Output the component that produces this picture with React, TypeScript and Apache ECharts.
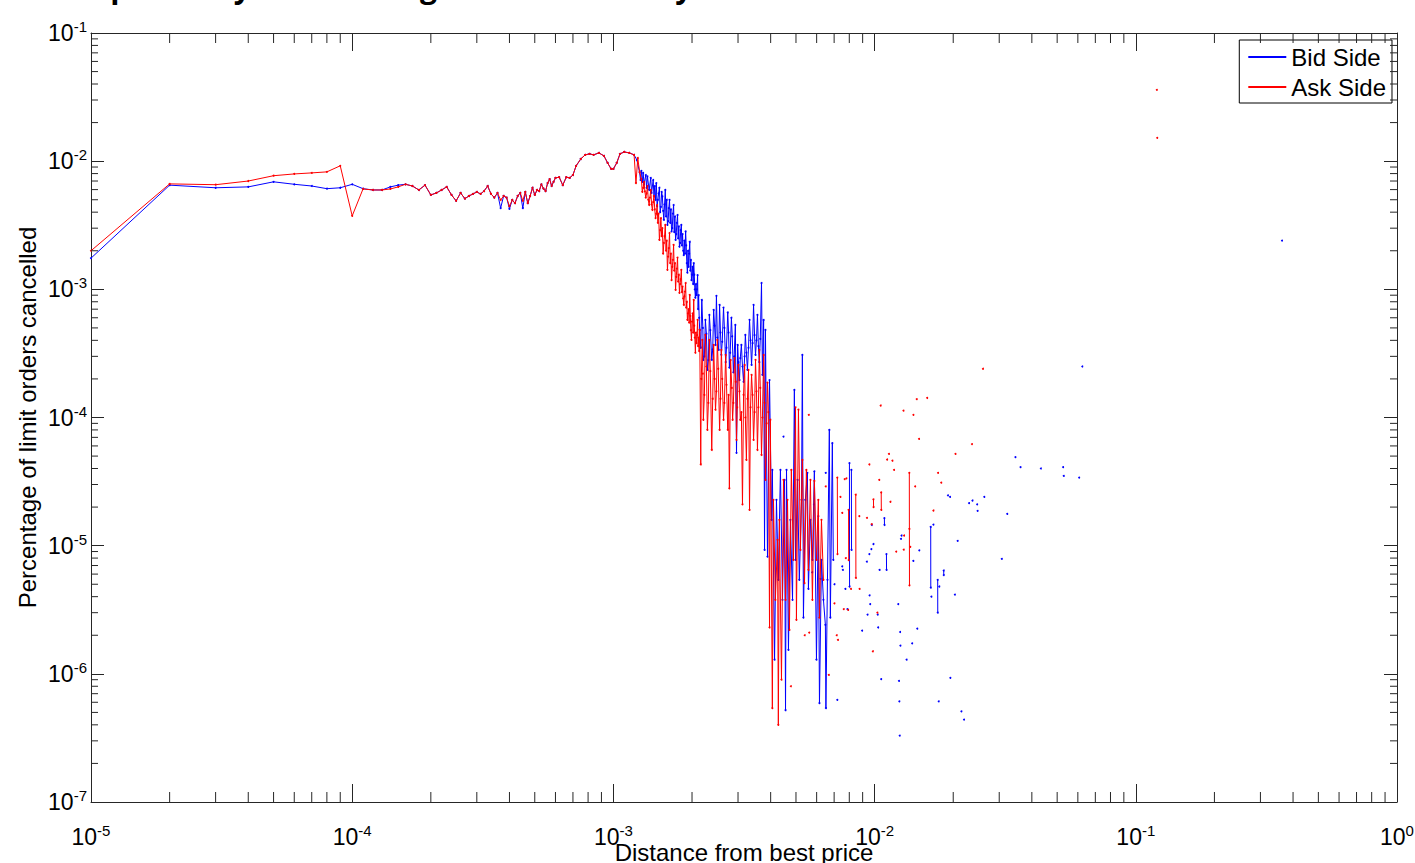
import React, { useEffect, useRef } from 'react';
import * as echarts from 'echarts';

type P = [number, number];

// ---- Bid side (blue) ----
const bidCurve: P[] = [
  [1e-5, 1.75e-3], [2e-5, 6.5e-3], [3e-5, 6.2e-3], [4e-5, 6.3e-3], [5e-5, 6.9e-3], [6e-5, 6.6e-3],
  [7e-5, 6.4e-3], [8e-5, 6.1e-3], [9e-5, 6.2e-3], [10e-5, 6.6e-3], [11e-5, 6.1e-3], [12e-5, 5.96e-3],
  [13e-5, 5.96e-3], [14e-5, 6.3e-3], [15e-5, 6.5e-3], [16e-5, 6.6e-3], [17e-5, 6.4e-3], [18e-5, 5.96e-3],
  [19e-5, 6.5e-3], [20e-5, 5.45e-3], [21e-5, 5.65e-3], [22e-5, 5.96e-3], [23e-5, 6.3e-3], [24e-5, 5.45e-3],
  [25e-5, 4.9e-3], [26e-5, 5.65e-3], [27e-5, 5.1e-3], [28e-5, 5.35e-3], [29e-5, 5.55e-3], [30e-5, 5.75e-3],
  [31e-5, 5.55e-3], [32e-5, 5.85e-3], [33e-5, 6.4e-3], [34e-5, 5.55e-3], [35e-5, 5.2e-3], [36e-5, 5.65e-3],
  [37e-5, 4.3e-3], [38e-5, 5.35e-3], [39e-5, 5.2e-3], [40e-5, 4.25e-3], [41e-5, 4.98e-3], [42e-5, 4.7e-3],
  [43e-5, 5.35e-3], [44e-5, 5.65e-3], [45e-5, 4.3e-3], [46e-5, 5.75e-3], [47e-5, 4.7e-3], [48e-5, 5.35e-3],
  [49e-5, 6.2e-3], [50e-5, 5.45e-3], [51e-5, 5.96e-3], [52e-5, 5.85e-3], [53e-5, 6.6e-3], [54e-5, 6.1e-3],
  [55e-5, 5.85e-3], [56e-5, 6.75e-3], [57e-5, 7.25e-3], [58e-5, 6.4e-3], [59e-5, 6.9e-3], [60e-5, 7.4e-3],
  [62e-5, 7.5e-3], [64e-5, 6.5e-3], [66e-5, 7.5e-3], [68e-5, 7.4e-3], [70e-5, 7.8e-3], [72e-5, 9.2e-3],
  [75e-5, 1.04e-2], [78e-5, 1.12e-2], [81e-5, 1.14e-2], [84e-5, 1.12e-2], [88e-5, 1.16e-2], [92e-5, 1.1e-2],
  [95e-5, 9.7e-3], [98e-5, 8.7e-3], [100e-5, 8.7e-3], [103e-5, 9.7e-3], [106e-5, 1.14e-2], [110e-5, 1.18e-2],
  [115e-5, 1.16e-2], [120e-5, 1.12e-2], [123e-5, 1.02e-2], [126e-5, 8.2e-3], [127e-5, 7.13e-3], [128e-5, 8.4e-3],
  [129e-5, 6.9e-3], [130e-5, 8.1e-3], [131e-5, 6.6e-3], [133e-5, 7.8e-3], [134e-5, 6.2e-3], [135e-5, 7.6e-3],
  [137e-5, 5.96e-3], [139e-5, 7.4e-3], [140e-5, 5.65e-3], [142e-5, 7.13e-3], [143e-5, 5.3e-3], [144e-5, 6.4e-3],
  [145e-5, 4.98e-3], [146e-5, 6.75e-3], [147e-5, 4.45e-3], [148e-5, 5.0e-3], [149e-5, 5.6e-3], [150e-5, 6.2e-3],
  [151e-5, 4.0e-3], [152e-5, 4.4e-3], [153e-5, 5.75e-3], [154e-5, 5.3e-3], [155e-5, 4.1e-3], [156e-5, 3.48e-3],
  [157e-5, 4.6e-3], [158e-5, 5.96e-3], [159e-5, 3.7e-3], [160e-5, 5.0e-3], [161e-5, 3.18e-3], [162e-5, 3.4e-3],
  [163e-5, 4.3e-3], [164e-5, 4.98e-3], [165e-5, 3.3e-3], [166e-5, 4.2e-3], [167e-5, 2.83e-3], [168e-5, 3.0e-3],
  [169e-5, 3.9e-3], [170e-5, 4.55e-3], [171e-5, 2.8e-3], [172e-5, 3.7e-3], [173e-5, 2.43e-3], [174e-5, 2.7e-3],
  [175e-5, 3.3e-3], [176e-5, 3.8e-3], [177e-5, 2.5e-3], [178e-5, 3.1e-3], [179e-5, 2.15e-3], [180e-5, 2.3e-3],
  [181e-5, 2.9e-3], [182e-5, 3.18e-3], [183e-5, 2.2e-3], [184e-5, 2.7e-3], [185e-5, 2.0e-3], [186e-5, 1.85e-3],
  [187e-5, 2.4e-3], [188e-5, 1.9e-3], [189e-5, 2.83e-3], [190e-5, 2.2e-3], [191e-5, 1.6e-3], [192e-5, 1.35e-3],
  [193e-5, 2.0e-3], [194e-5, 1.5e-3], [195e-5, 1.9e-3], [196e-5, 2.35e-3], [197e-5, 1.4e-3], [198e-5, 1.7e-3],
  [199e-5, 1.18e-3], [200e-5, 1.3e-3], [201e-5, 1.5e-3], [202e-5, 1.1e-3], [203e-5, 1.6e-3], [204e-5, 1.3e-3],
  [205e-5, 1.0e-3], [206e-5, 8.6e-4], [207e-5, 1.1e-3], [208e-5, 9.0e-4], [209e-5, 1.0e-3], [210e-5, 1.29e-3],
  [211e-5, 7.0e-4], [212e-5, 9.0e-4], [213e-5, 6.0e-4], [214e-5, 4.82e-4], [216e-5, 3.5e-4], [218e-5, 8.26e-4],
  [220e-5, 5.0e-4], [221e-5, 2.81e-4], [223e-5, 3.0e-4], [225e-5, 5.77e-4], [227e-5, 4.5e-4], [229e-5, 2.35e-4],
  [231e-5, 2.8e-4], [233e-5, 6.31e-4], [235e-5, 4.8e-4], [238e-5, 2.81e-4], [240e-5, 3.4e-4], [242e-5, 6.9e-4],
  [244e-5, 5.2e-4], [246e-5, 3.68e-4], [248e-5, 8.9e-4], [250e-5, 4.2e-4], [253e-5, 3.37e-4], [255e-5, 7.55e-4],
  [257e-5, 4.6e-4], [259e-5, 3.08e-4], [261e-5, 3.9e-4], [264e-5, 7.2e-4], [266e-5, 5.0e-4], [269e-5, 2.7e-4],
  [271e-5, 3.5e-4], [274e-5, 6.6e-4], [276e-5, 4.6e-4], [278e-5, 2.45e-4], [280e-5, 3.2e-4], [283e-5, 6.0e-4],
  [285e-5, 4.3e-4], [288e-5, 2.25e-4], [290e-5, 3.0e-4], [293e-5, 5.27e-4], [296e-5, 5.3e-5], [299e-5, 3.68e-4],
  [301e-5, 2.7e-4], [304e-5, 1.96e-4], [306e-5, 2.9e-4], [309e-5, 3.68e-4], [312e-5, 2.5e-4], [315e-5, 1.9e-4],
  [318e-5, 3.0e-4], [320e-5, 4.41e-4], [323e-5, 3.2e-4], [326e-5, 2.35e-4], [329e-5, 3.5e-4], [332e-5, 5.77e-4],
  [335e-5, 4.0e-4], [338e-5, 2.57e-4], [341e-5, 3.8e-4], [344e-5, 7.55e-4], [347e-5, 4.4e-4], [350e-5, 3.08e-4],
  [353e-5, 4.0e-4], [356e-5, 6.31e-4], [359e-5, 3.6e-4], [362e-5, 2.7e-4], [365e-5, 4.1e-4], [369e-5, 1.12e-3],
  [372e-5, 2.15e-4], [376e-5, 5.77e-4], [379e-5, 9.27e-6], [382e-5, 4.82e-4], [389e-5, 8.2e-6], [396e-5, 1.96e-4],
  [403e-5, 1.59e-5], [406e-5, 3.9e-5], [414e-5, 1.29e-6], [421e-5, 2.28e-5], [428e-5, 5.41e-6], [436e-5, 3.9e-5],
  [444e-5, 3.78e-6], [452e-5, 3.26e-5], [456e-5, 5.2e-7], [460e-5, 3.9e-5], [468e-5, 1.54e-6], [476e-5, 1.59e-5],
  [485e-5, 3.78e-6], [493e-5, 1.64e-4], [498e-5, 7.74e-6], [507e-5, 3.26e-5], [515e-5, 5.41e-6], [525e-5, 2.28e-5],
  [529e-5, 3.08e-4], [534e-5, 2.75e-6], [543e-5, 2.28e-5], [553e-5, 3.7e-5], [558e-5, 4.6e-6], [568e-5, 1.59e-5],
  [578e-5, 7.74e-6], [588e-5, 3.8e-5], [599e-5, 1.29e-6], [609e-5, 1.7e-5], [615e-5, 5.9e-7], [626e-5, 7.74e-6],
  [637e-5, 3.78e-6], [648e-5, 2.41e-6], [651e-5, 5.4e-7], [660e-5, 5.41e-6], [671e-5, 8.0e-5], [677e-5, 2.75e-6],
  [689e-5, 6.3e-5], [695e-5, 7.74e-6],
];
const bidSegments: P[][] = [
  [[801e-5, 4.4e-5], [802e-5, 4.8e-6]],
  [[815e-5, 3.9e-5], [816e-5, 9.27e-6]],
  [[1090e-5, 1.64e-5], [1091e-5, 1.45e-5]],
  [[1110e-5, 8.6e-6], [1111e-5, 6.47e-6]],
  [[1640e-5, 1.4e-5], [1641e-5, 4.7e-6]],
  [[1744e-5, 5.41e-6], [1745e-5, 3.0e-6]],
  [[1839e-5, 6.4e-6], [1840e-5, 5.9e-6]],
];
const bidDots: P[] = [
  [448e-5, 7.1e-5], [586e-5, 2.1e-5], [577e-5, 6.2e-6], [621e-5, 5.5e-6], [650e-5, 3.7e-5], [702e-5, 5.0e-6],
  [720e-5, 6.27e-7], [752e-5, 6.9e-6], [756e-5, 6.47e-6], [773e-5, 4.6e-6], [787e-5, 3.2e-6], [896e-5, 2.17e-6],
  [934e-5, 7.5e-6], [940e-5, 2.9e-6], [955e-5, 8.6e-6], [972e-5, 9.4e-6], [990e-5, 1.03e-5], [957e-5, 4.1e-6],
  [962e-5, 3.5e-6], [975e-5, 1.45e-5], [1028e-5, 2.9e-6], [1032e-5, 2.3e-6], [1045e-5, 6.47e-6], [1060e-5, 9.1e-7],
  [1232e-5, 3.5e-6], [1240e-5, 8.8e-7], [1244e-5, 6.1e-7], [1248e-5, 3.3e-7], [1252e-5, 2.12e-6], [1256e-5, 1.66e-6],
  [1262e-5, 1.13e-5], [1268e-5, 1.2e-5], [1326e-5, 1.29e-6], [1393e-5, 1.73e-6], [1407e-5, 7.6e-6], [1457e-5, 2.25e-6],
  [1483e-5, 9.2e-6], [1650e-5, 4.0e-6], [1680e-5, 1.46e-5], [1760e-5, 6.1e-7], [1769e-5, 4.8e-6], [1910e-5, 2.47e-5],
  [1945e-5, 2.4e-5], [1950e-5, 9.3e-7], [2030e-5, 4.15e-6], [2080e-5, 1.09e-5], [2150e-5, 5.1e-7], [2200e-5, 4.4e-7],
  [2300e-5, 2.15e-5], [2370e-5, 2.25e-5], [2470e-5, 2.1e-5], [2480e-5, 1.87e-5], [2630e-5, 2.4e-5], [3070e-5, 7.9e-6],
  [3220e-5, 1.77e-5], [3460e-5, 4.9e-5], [3620e-5, 4.1e-5], [4330e-5, 4.0e-5], [5270e-5, 4.1e-5], [5300e-5, 3.5e-5],
  [6070e-5, 3.4e-5], [6240e-5, 2.5e-4], [36300e-5, 2.4e-3],
];

// ---- Ask side (red) ----
const askCurve: P[] = [
  [1e-5, 2.0e-3], [2e-5, 6.65e-3], [3e-5, 6.55e-3], [4e-5, 7.0e-3], [5e-5, 7.7e-3], [6e-5, 7.95e-3],
  [7e-5, 8.1e-3], [8e-5, 8.25e-3], [9e-5, 9.2e-3], [10e-5, 3.74e-3], [11e-5, 6.07e-3], [12e-5, 5.96e-3],
  [13e-5, 5.96e-3], [14e-5, 6.07e-3], [15e-5, 6.3e-3], [16e-5, 6.6e-3], [17e-5, 6.4e-3], [18e-5, 5.96e-3],
  [19e-5, 6.5e-3], [20e-5, 5.45e-3], [21e-5, 5.65e-3], [22e-5, 5.96e-3], [23e-5, 6.3e-3], [24e-5, 5.45e-3],
  [25e-5, 4.9e-3], [26e-5, 5.65e-3], [27e-5, 5.1e-3], [28e-5, 5.35e-3], [29e-5, 5.55e-3], [30e-5, 5.75e-3],
  [31e-5, 5.55e-3], [32e-5, 5.85e-3], [33e-5, 6.4e-3], [34e-5, 5.55e-3], [35e-5, 5.2e-3], [36e-5, 5.65e-3],
  [37e-5, 4.98e-3], [38e-5, 5.35e-3], [39e-5, 5.2e-3], [40e-5, 4.45e-3], [41e-5, 4.98e-3], [42e-5, 4.7e-3],
  [43e-5, 5.35e-3], [44e-5, 5.65e-3], [45e-5, 4.9e-3], [46e-5, 5.75e-3], [47e-5, 4.7e-3], [48e-5, 5.35e-3],
  [49e-5, 6.2e-3], [50e-5, 5.45e-3], [51e-5, 5.96e-3], [52e-5, 5.85e-3], [53e-5, 6.6e-3], [54e-5, 6.1e-3],
  [55e-5, 5.85e-3], [56e-5, 6.75e-3], [57e-5, 7.25e-3], [58e-5, 6.4e-3], [59e-5, 6.9e-3], [60e-5, 7.4e-3],
  [62e-5, 7.5e-3], [64e-5, 6.5e-3], [66e-5, 7.5e-3], [68e-5, 7.4e-3], [70e-5, 7.8e-3], [72e-5, 9.2e-3],
  [75e-5, 1.04e-2], [78e-5, 1.12e-2], [81e-5, 1.14e-2], [84e-5, 1.12e-2], [88e-5, 1.16e-2], [92e-5, 1.1e-2],
  [95e-5, 9.7e-3], [98e-5, 8.7e-3], [100e-5, 8.7e-3], [103e-5, 9.7e-3], [106e-5, 1.14e-2], [110e-5, 1.18e-2],
  [115e-5, 1.16e-2], [120e-5, 1.12e-2], [122e-5, 6.75e-3], [124e-5, 1.06e-2], [126e-5, 8.2e-3], [128e-5, 7.25e-3],
  [129e-5, 5.75e-3], [130e-5, 6.2e-3], [131e-5, 6.9e-3], [132e-5, 5.8e-3], [133e-5, 5.2e-3], [134e-5, 5.6e-3],
  [135e-5, 6.4e-3], [136e-5, 5.0e-3], [137e-5, 4.55e-3], [138e-5, 5.2e-3], [139e-5, 5.96e-3], [140e-5, 4.6e-3],
  [141e-5, 4.16e-3], [142e-5, 4.8e-3], [143e-5, 5.35e-3], [144e-5, 4.2e-3], [145e-5, 3.6e-3], [146e-5, 3.9e-3],
  [147e-5, 4.55e-3], [148e-5, 3.3e-3], [149e-5, 3.9e-3], [150e-5, 2.43e-3], [151e-5, 2.9e-3], [152e-5, 3.6e-3],
  [153e-5, 2.6e-3], [154e-5, 3.0e-3], [155e-5, 1.9e-3], [156e-5, 2.3e-3], [157e-5, 2.6e-3], [158e-5, 3.18e-3],
  [159e-5, 2.0e-3], [160e-5, 2.4e-3], [161e-5, 1.42e-3], [162e-5, 1.8e-3], [163e-5, 2.1e-3], [164e-5, 2.75e-3],
  [165e-5, 1.6e-3], [166e-5, 1.9e-3], [167e-5, 1.18e-3], [168e-5, 1.5e-3], [169e-5, 1.7e-3], [170e-5, 2.22e-3],
  [171e-5, 1.4e-3], [172e-5, 1.6e-3], [173e-5, 9.9e-4], [174e-5, 1.25e-3], [175e-5, 1.45e-3], [176e-5, 1.77e-3],
  [177e-5, 1.15e-3], [178e-5, 1.3e-3], [179e-5, 9.4e-4], [180e-5, 1.1e-3], [181e-5, 1.2e-3], [182e-5, 1.42e-3],
  [183e-5, 9.5e-4], [184e-5, 1.05e-3], [185e-5, 8.5e-4], [186e-5, 7.55e-4], [187e-5, 8.8e-4], [188e-5, 9.6e-4],
  [189e-5, 1.12e-3], [190e-5, 7.2e-4], [191e-5, 8.0e-4], [192e-5, 5.77e-4], [193e-5, 6.5e-4], [194e-5, 7.0e-4],
  [195e-5, 5.5e-4], [196e-5, 9.04e-4], [197e-5, 6.2e-4], [198e-5, 4.8e-4], [199e-5, 4.03e-4], [200e-5, 5.6e-4],
  [201e-5, 6.5e-4], [202e-5, 4.6e-4], [203e-5, 8.26e-4], [204e-5, 5.2e-4], [205e-5, 4.2e-4], [206e-5, 3.2e-4],
  [207e-5, 4.6e-4], [208e-5, 3.8e-4], [209e-5, 4.4e-4], [210e-5, 5.77e-4], [211e-5, 3.6e-4], [212e-5, 4.2e-4],
  [213e-5, 3.3e-4], [214e-5, 4.82e-4], [216e-5, 4.3e-5], [217e-5, 2.0e-4], [219e-5, 4.03e-4], [220e-5, 2.2e-4],
  [221e-5, 9.6e-5], [223e-5, 1.5e-4], [225e-5, 4.41e-4], [227e-5, 2.5e-4], [229e-5, 8.0e-5], [231e-5, 1.3e-4],
  [233e-5, 4.03e-4], [235e-5, 2.3e-4], [238e-5, 5.58e-5], [240e-5, 1.4e-4], [242e-5, 3.68e-4], [244e-5, 2.0e-4],
  [246e-5, 1.15e-4], [248e-5, 1.6e-4], [250e-5, 4.03e-4], [252e-5, 2.4e-4], [255e-5, 8.0e-5], [257e-5, 1.4e-4],
  [259e-5, 3.37e-4], [261e-5, 2.0e-4], [264e-5, 9.6e-5], [266e-5, 1.3e-4], [269e-5, 3.08e-4], [271e-5, 1.8e-4],
  [274e-5, 8.0e-5], [276e-5, 1.5e-4], [278e-5, 2.8e-5], [281e-5, 2.81e-4], [284e-5, 1.7e-4], [286e-5, 9.6e-5],
  [288e-5, 1.3e-4], [291e-5, 2.9e-4], [294e-5, 1.9e-4], [296e-5, 6.68e-5], [298e-5, 1.2e-4], [301e-5, 2.57e-4],
  [304e-5, 1.6e-4], [306e-5, 9.6e-5], [309e-5, 1.1e-4], [312e-5, 2.1e-5], [315e-5, 1.5e-4], [318e-5, 2.57e-4],
  [320e-5, 1.0e-4], [323e-5, 4.67e-5], [326e-5, 1.4e-4], [329e-5, 2.35e-4], [332e-5, 1.9e-5], [335e-5, 1.2e-4],
  [338e-5, 2.15e-4], [341e-5, 1.5e-4], [344e-5, 6.68e-5], [347e-5, 1.1e-4], [350e-5, 2.81e-4], [353e-5, 1.6e-4],
  [356e-5, 5.58e-5], [359e-5, 1.2e-4], [362e-5, 3.37e-4], [365e-5, 1.7e-4], [369e-5, 5.1e-5], [372e-5, 1.0e-4],
  [376e-5, 3.08e-4], [379e-5, 1.3e-4], [382e-5, 3.26e-5], [386e-5, 9.0e-5], [389e-5, 1.87e-4], [392e-5, 1.1e-4],
  [396e-5, 2.3e-6], [399e-5, 9.6e-5], [406e-5, 5.4e-7], [410e-5, 2.28e-5], [417e-5, 3.78e-6], [425e-5, 1.11e-5],
  [428e-5, 4.0e-7], [432e-5, 1.59e-5], [440e-5, 9.0e-7], [448e-5, 3.26e-5], [456e-5, 3.78e-6], [464e-5, 2.28e-5],
  [472e-5, 2.2e-6], [480e-5, 3.9e-5], [489e-5, 7.74e-6], [498e-5, 1.2e-4], [502e-5, 2.64e-6], [511e-5, 1.15e-4],
  [520e-5, 9.27e-6], [529e-5, 4.67e-5], [539e-5, 5.1e-6], [548e-5, 3.9e-5], [558e-5, 6.47e-6], [568e-5, 3.26e-5],
  [578e-5, 3.78e-6], [588e-5, 3.2e-5], [599e-5, 7.74e-6], [609e-5, 2.28e-5], [615e-5, 2.75e-6], [626e-5, 1.59e-5],
  [637e-5, 5.41e-6],
];
const askSegments: P[][] = [
  [[720e-5, 3.4e-5], [721e-5, 8.6e-6]],
  [[795e-5, 1.9e-5], [796e-5, 7.7e-6]],
  [[847e-5, 2.5e-5], [848e-5, 5.6e-6]],
  [[990e-5, 2.3e-5], [991e-5, 2.0e-5]],
  [[1060e-5, 2.6e-5], [1061e-5, 1.9e-5]],
  [[1358e-5, 3.7e-5], [1359e-5, 1.35e-5], [1360e-5, 4.9e-6]],
];
const askDots: P[] = [
  [478e-5, 8.0e-7], [540e-5, 2.0e-6], [560e-5, 1.05e-4], [562e-5, 2.1e-6], [650e-5, 2.9e-5], [668e-5, 9.8e-7],
  [702e-5, 3.55e-6], [716e-5, 2.0e-6], [724e-5, 1.84e-6], [740e-5, 2.4e-5], [752e-5, 1.8e-5], [762e-5, 3.2e-6],
  [768e-5, 3.3e-5], [776e-5, 8.0e-6], [780e-5, 3.35e-5], [792e-5, 3.15e-6], [812e-5, 4.6e-6], [874e-5, 1.7e-5],
  [876e-5, 4.6e-6], [935e-5, 1.65e-5], [955e-5, 4.3e-5], [975e-5, 1.47e-5], [985e-5, 1.5e-6], [1025e-5, 3.0e-6],
  [1042e-5, 3.26e-5], [1055e-5, 1.24e-4], [1117e-5, 4.7e-5], [1135e-5, 5.2e-5], [1150e-5, 2.2e-5], [1170e-5, 4.6e-5],
  [1187e-5, 3.9e-5], [1210e-5, 9.0e-6], [1290e-5, 1.13e-4], [1293e-5, 9.3e-6], [1297e-5, 1.2e-5], [1370e-5, 9.8e-6],
  [1408e-5, 1.05e-4], [1430e-5, 2.9e-5], [1450e-5, 1.39e-4], [1480e-5, 6.8e-5], [1590e-5, 1.42e-4], [1680e-5, 1.88e-5],
  [1750e-5, 3.7e-5], [1800e-5, 3.1e-5], [2040e-5, 5.2e-5], [2360e-5, 6.2e-5], [2600e-5, 2.4e-4], [12040e-5, 3.6e-2],
  [12080e-5, 1.52e-2],
];

const seriesNames = ['Bid Side', 'Ask Side'];
const seriesColors = ['#0000ff', '#ff0000'];
const xLabel = 'Distance from best price';
const yLabel = 'Percentage of limit orders cancelled';
const titleText = 'Step Density of Matching Active Orders by Distance';

const X_MIN = 1e-5, X_MAX = 1, Y_MIN = 1e-7, Y_MAX = 1e-1;
const AXIS_COLOR = '#262626';
const FONT = '"Liberation Sans", Arial, sans-serif';

function joinPieces(curve: P[], segments: P[][], dots: P[]) {
  const out: (number | null)[][] = curve.map((p) => [p[0], p[1]]);
  segments.forEach((seg) => {
    out.push([seg[0][0], null]);
    seg.forEach((p) => out.push([p[0], p[1]]));
  });
  dots.forEach((d) => {
    out.push([d[0], null]);
    out.push([d[0], d[1]]);
  });
  return out;
}

function minorTicks(min: number, max: number) {
  const res: number[] = [];
  for (let e = Math.round(Math.log10(min)); e < Math.round(Math.log10(max)); e++) {
    for (let m = 2; m <= 9; m++) res.push(m * Math.pow(10, e));
  }
  return res;
}

const labelFormatter = (v: number) => {
  const e = Math.round(Math.log10(v));
  return `{b|10}{s|${e}}`;
};
const labelRich = {
  b: { fontSize: 23, fontFamily: FONT, color: '#000', lineHeight: 28 },
  s: { fontSize: 15, fontFamily: FONT, color: '#000', verticalAlign: 'top', lineHeight: 16 },
};

export default function App() {
  const ref = useRef<HTMLDivElement>(null);
  useEffect(() => {
    if (!ref.current) return;
    const chart = echarts.init(ref.current, undefined, { renderer: 'svg' });
    const lineCommon = { color: AXIS_COLOR, width: 1 };
    const baseX = {
      type: 'log', logBase: 10, min: X_MIN, max: X_MAX, splitNumber: 5,
      splitLine: { show: false }, minorTick: { show: false },
      axisLine: { show: true, onZero: false, lineStyle: lineCommon },
      axisTick: { show: true, inside: true, length: 18, lineStyle: lineCommon },
    };
    const baseY = {
      type: 'log', logBase: 10, min: Y_MIN, max: Y_MAX, splitNumber: 6,
      splitLine: { show: false }, minorTick: { show: false },
      axisLine: { show: true, onZero: false, lineStyle: lineCommon },
      axisTick: { show: true, inside: true, length: 13, lineStyle: lineCommon },
    };
    const mx = minorTicks(X_MIN, X_MAX);
    const my = minorTicks(Y_MIN, Y_MAX);
    const option: any = {
      animation: false,
      backgroundColor: '#fff',
      grid: { left: 91, right: 18, top: 33, bottom: 61, containLabel: false, outerBoundsMode: 'none' },
      graphic: [
        {
          type: 'text', x: 63, y: 1, silent: true,
          style: {
            text: titleText, fill: '#000', fontSize: 30, fontWeight: 'bold',
            fontFamily: '"Open Sans", sans-serif', verticalAlign: 'bottom',
          },
        },
      ],
      legend: {
        data: seriesNames, orient: 'vertical', right: 23, top: 40,
        itemWidth: 38, itemHeight: 2, icon: 'rect', itemGap: 6,
        padding: [5, 6, 4, 9], borderColor: '#000', borderWidth: 1, backgroundColor: '#fff',
        textStyle: { fontSize: 24, fontFamily: FONT, color: '#000' },
      },
      xAxis: [
        {
          ...baseX, position: 'bottom',
          axisLabel: { formatter: labelFormatter, rich: labelRich, margin: 21, showMinLabel: true, showMaxLabel: true, hideOverlap: false },
          name: xLabel, nameLocation: 'middle', nameGap: 38, nameMoveOverlap: false,
          nameTextStyle: { fontSize: 24, fontFamily: FONT, color: '#000' },
        },
        { ...baseX, position: 'top', axisLabel: { show: false } },
      ],
      yAxis: [
        {
          ...baseY, position: 'left',
          axisLabel: { formatter: labelFormatter, rich: labelRich, margin: 4, showMinLabel: true, showMaxLabel: true, hideOverlap: false },
          name: yLabel, nameLocation: 'middle', nameGap: 52, nameMoveOverlap: false,
          nameTextStyle: { fontSize: 24, fontFamily: FONT, color: '#000' },
        },
        { ...baseY, position: 'right', axisLabel: { show: false } },
      ],
      series: [
        {
          type: 'line', name: seriesNames[0], xAxisIndex: 0, yAxisIndex: 0,
          data: joinPieces(bidCurve, bidSegments, bidDots),
          connectNulls: false, showSymbol: true, showAllSymbol: true, symbol: 'circle', symbolSize: 2,
          lineStyle: { color: seriesColors[0], width: 1 }, itemStyle: { color: seriesColors[0] },
          silent: true, z: 2,
        },
        {
          type: 'line', name: seriesNames[1], xAxisIndex: 0, yAxisIndex: 0,
          data: joinPieces(askCurve, askSegments, askDots),
          connectNulls: false, showSymbol: true, showAllSymbol: true, symbol: 'circle', symbolSize: 2,
          lineStyle: { color: seriesColors[1], width: 1 }, itemStyle: { color: seriesColors[1] },
          silent: true, z: 3,
        },
        {
          type: 'custom', coordinateSystem: 'cartesian2d', xAxisIndex: 0, yAxisIndex: 0,
          silent: true, clip: false, z: 5,
          data: mx.map((v) => [v, Y_MIN]),
          renderItem: (_p: any, api: any) => {
            const v = api.value(0);
            const b = api.coord([v, Y_MIN]);
            const t = api.coord([v, Y_MAX]);
            const st = { stroke: AXIS_COLOR, lineWidth: 1 };
            return {
              type: 'group', children: [
                { type: 'line', shape: { x1: b[0], y1: b[1], x2: b[0], y2: b[1] - 10 }, style: st },
                { type: 'line', shape: { x1: t[0], y1: t[1], x2: t[0], y2: t[1] + 10 }, style: st },
              ],
            };
          },
        },
        {
          type: 'custom', coordinateSystem: 'cartesian2d', xAxisIndex: 0, yAxisIndex: 0,
          silent: true, clip: false, z: 5,
          data: my.map((v) => [X_MIN, v]),
          renderItem: (_p: any, api: any) => {
            const v = api.value(1);
            const l = api.coord([X_MIN, v]);
            const r = api.coord([X_MAX, v]);
            const st = { stroke: AXIS_COLOR, lineWidth: 1 };
            return {
              type: 'group', children: [
                { type: 'line', shape: { x1: l[0], y1: l[1], x2: l[0] + 7, y2: l[1] }, style: st },
                { type: 'line', shape: { x1: r[0], y1: r[1], x2: r[0] - 7, y2: r[1] }, style: st },
              ],
            };
          },
        },
      ],
    };
    chart.setOption(option);
    return () => chart.dispose();
  }, []);
  return (
    <div
      ref={ref}
      style={{ position: 'fixed', left: 0, top: 0, width: 1415, height: 863, background: '#fff' }}
    />
  );
}
